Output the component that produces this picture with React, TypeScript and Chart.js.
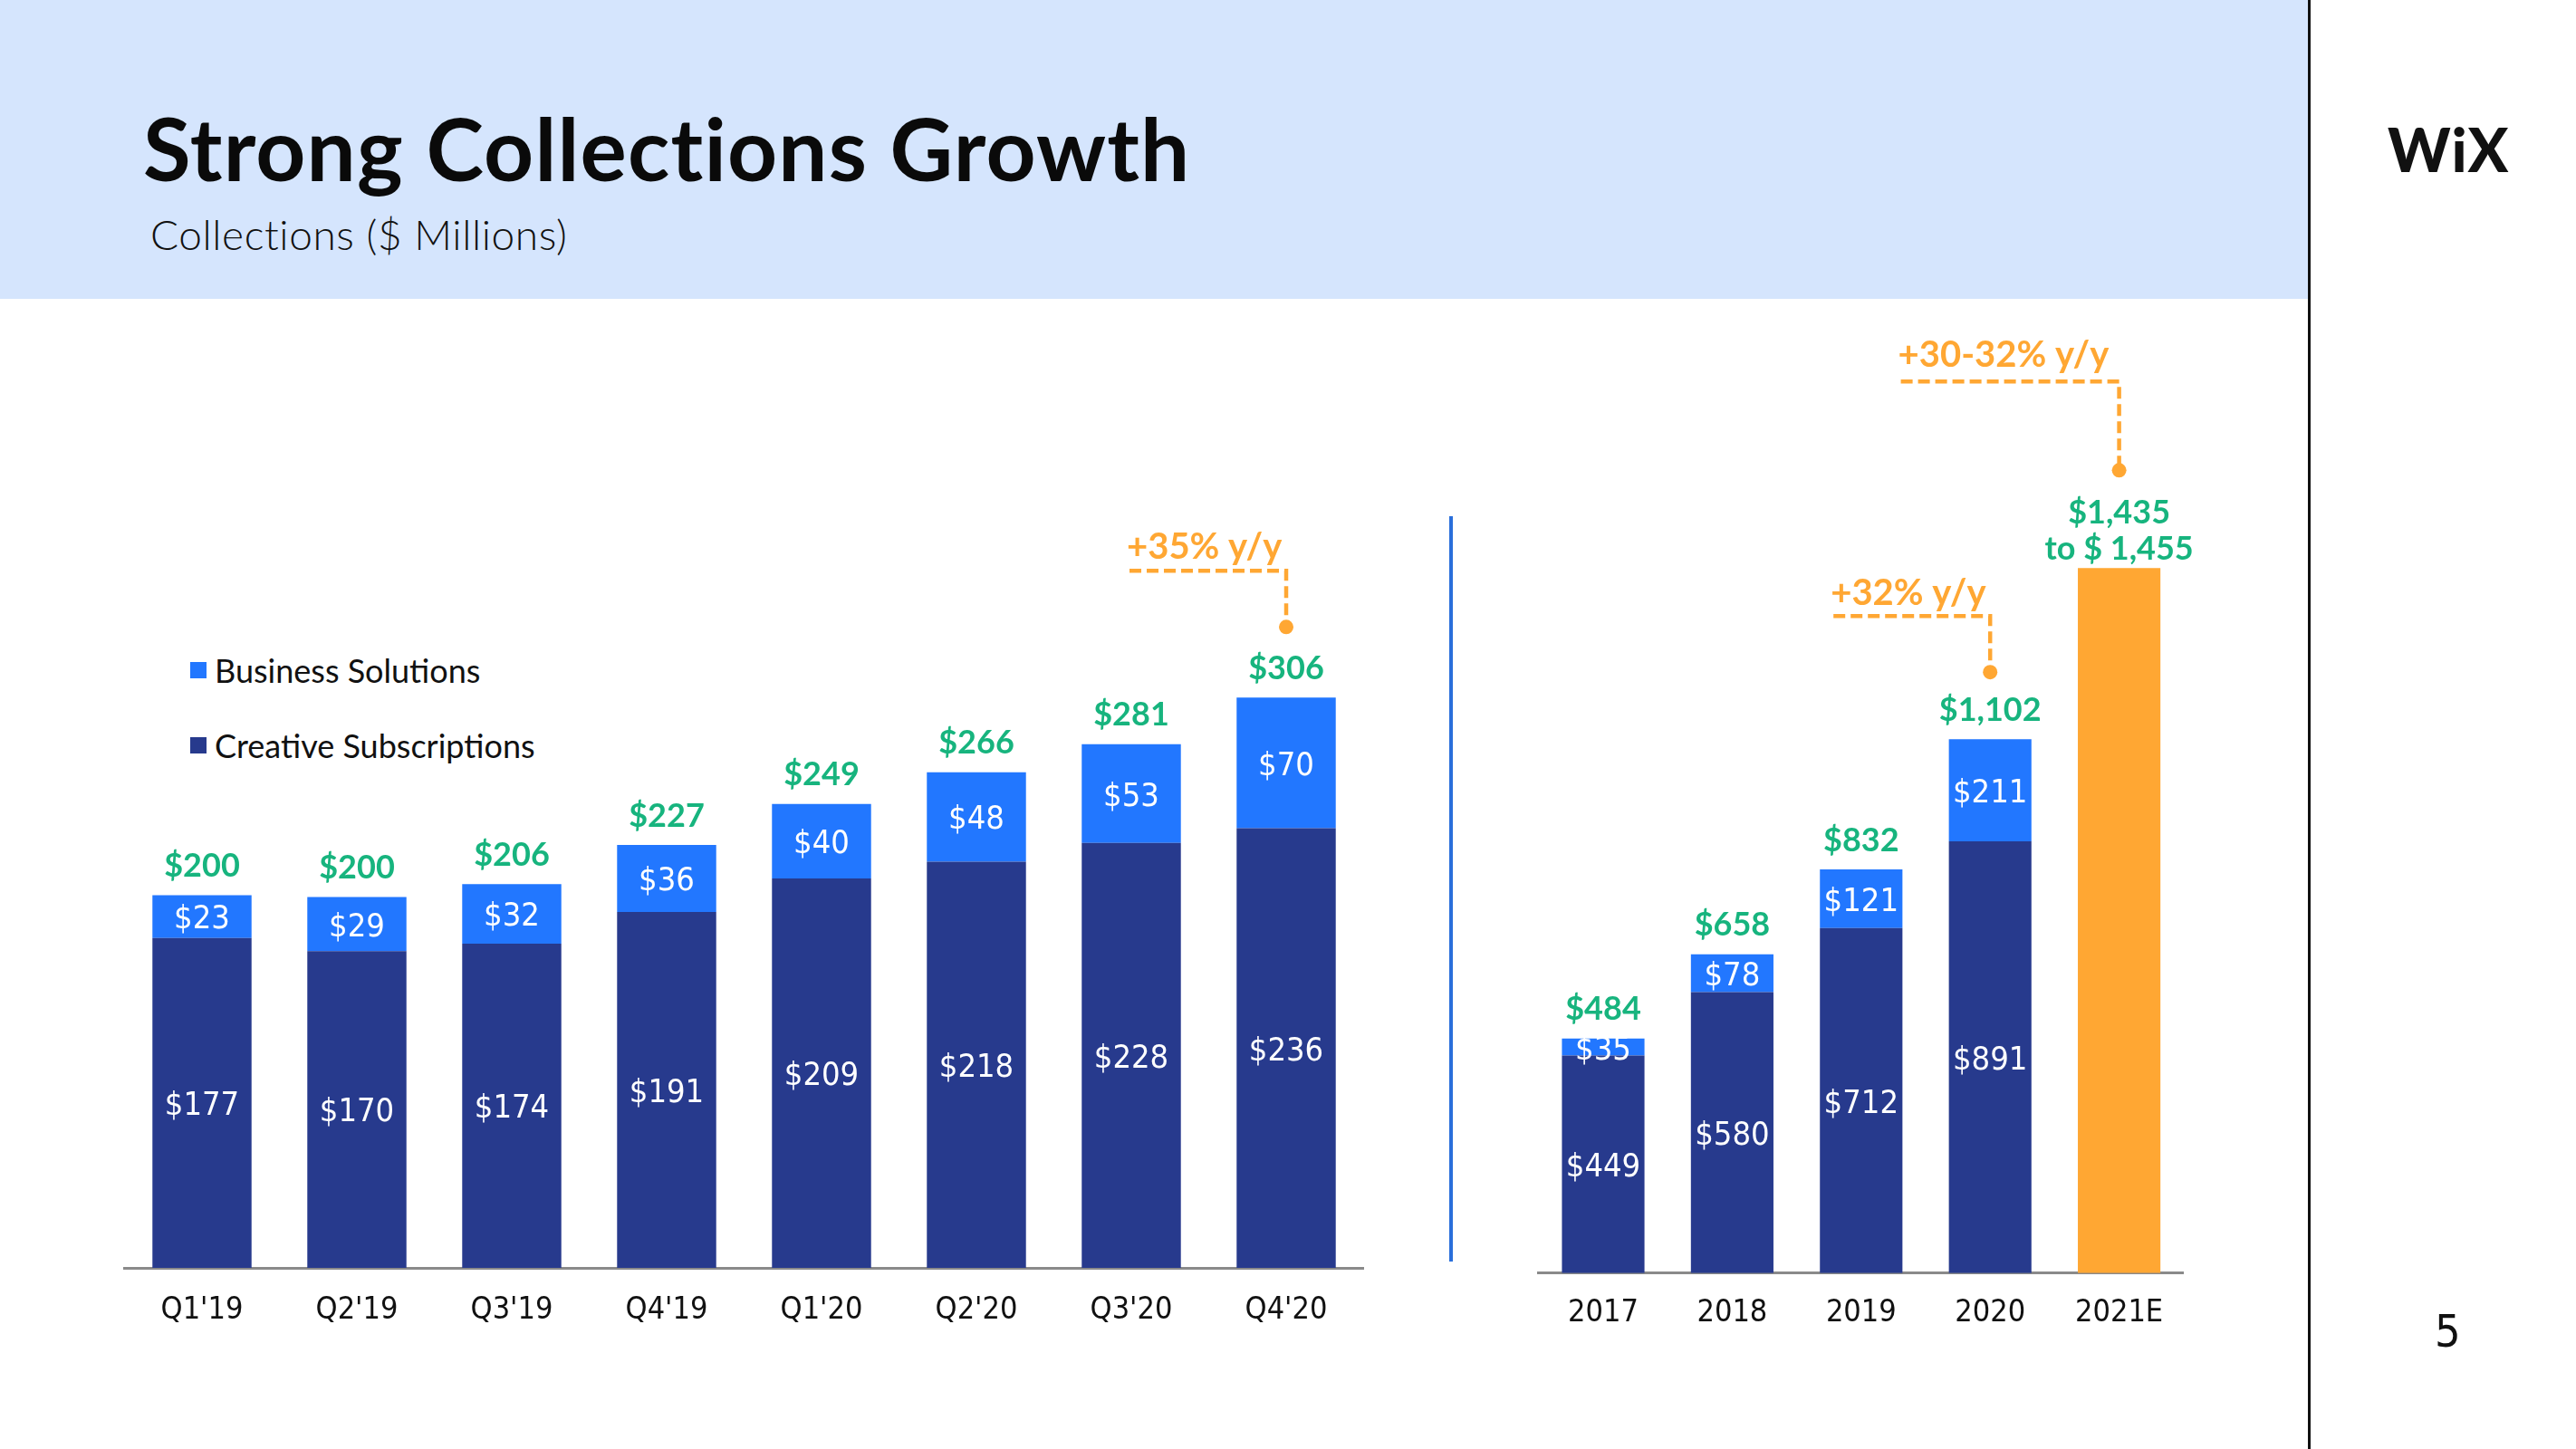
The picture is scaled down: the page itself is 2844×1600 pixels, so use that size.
import React, { useEffect, useRef } from 'react';
import { Chart, registerables } from 'chart.js';

Chart.register(...registerables);

// ---------- data ----------
const quarterLabels = ["Q1'19", "Q2'19", "Q3'19", "Q4'19", "Q1'20", "Q2'20", "Q3'20", "Q4'20"];
const quarterCreative = [177, 170, 174, 191, 209, 218, 228, 236];
const quarterBusiness = [23, 29, 32, 36, 40, 48, 53, 70];
const quarterTotals = [['$200'], ['$200'], ['$206'], ['$227'], ['$249'], ['$266'], ['$281'], ['$306']];
const quarterGrowth = [{ index: 7, text: '+35% y/y' }];

const yearLabels = ['2017', '2018', '2019', '2020', '2021E'];
const yearCreative = [449, 580, 712, 891, null];
const yearBusiness = [35, 78, 121, 211, null];
const yearOutlook = [null, null, null, null, 1455];
const yearTotals = [['$484'], ['$658'], ['$832'], ['$1,102'], ['$1,435', 'to $ 1,455']];
const yearGrowth = [
  { index: 3, text: '+32% y/y' },
  { index: 4, text: '+30-32% y/y' },
];

const legendItems = [
  { label: 'Business Solutions', color: '#2277FF' },
  { label: 'Creative Subscriptions', color: '#273A8D' },
];

// ---------- styles ----------
const NAVY = '#273A8D';
const BLUE = '#2277FF';
const ORANGE = '#FFA733';
const GREEN = '#17B47E';
const NARROW = '"Liberation Sans Narrow", "DejaVu Sans Condensed", "Roboto", sans-serif';
const MAIN = 'Lato, "Open Sans", sans-serif';

type Callout = { dotAbove: number; lineAbove: number; lineLen: number; textAbove: number };

function makeLabelPlugin(cfg: {
  totals: string[][];
  growth: { index: number; text: string }[];
  callouts: Callout[];
  totalAbove: number;
  lineGap: number;
}) {
  return {
    id: 'barLabels',
    afterDatasetsDraw(chart: any) {
      const ctx = chart.ctx;
      ctx.save();
      // inner white labels
      chart.data.datasets.forEach((ds: any, di: number) => {
        if (ds.innerLabels === false) return;
        const meta = chart.getDatasetMeta(di);
        meta.data.forEach((bar: any, i: number) => {
          const v = ds.data[i];
          if (v == null) return;
          const p = bar.getProps(['x', 'y', 'base'], true);
          ctx.fillStyle = '#ffffff';
          ctx.font = `36px ${NARROW}`;
          ctx.textAlign = 'center';
          ctx.textBaseline = 'middle';
          ctx.fillText('$' + v, p.x, (p.y + p.base) / 2 + 4);
        });
      });
      // totals + callouts
      const n = chart.data.labels.length;
      const tops: { x: number; y: number }[] = [];
      for (let i = 0; i < n; i++) {
        let top = Infinity;
        let x = 0;
        chart.data.datasets.forEach((ds: any, di: number) => {
          if (ds.data[i] == null) return;
          const bar = chart.getDatasetMeta(di).data[i];
          const p = bar.getProps(['x', 'y'], true);
          top = Math.min(top, p.y);
          x = p.x;
        });
        tops.push({ x, y: top });
        const lines = cfg.totals[i];
        ctx.fillStyle = GREEN;
        ctx.font = `bold 36px ${MAIN}`;
        ctx.textAlign = 'center';
        ctx.textBaseline = 'middle';
        lines.forEach((t, li) => {
          const yy = top - cfg.totalAbove - (lines.length - 1 - li) * cfg.lineGap + (lines.length > 1 ? 11 : 0);
          ctx.fillText(t, x, yy);
        });
      }
      cfg.growth.forEach((g, gi) => {
        const c = cfg.callouts[gi];
        const t = tops[g.index];
        const dotY = t.y - c.dotAbove;
        const lineY = dotY - c.lineAbove;
        ctx.strokeStyle = ORANGE;
        ctx.lineWidth = 4.5;
        ctx.setLineDash([13, 6]);
        ctx.beginPath();
        ctx.moveTo(t.x - c.lineLen, lineY);
        ctx.lineTo(t.x, lineY);
        ctx.lineTo(t.x, dotY);
        ctx.stroke();
        ctx.setLineDash([]);
        ctx.fillStyle = ORANGE;
        ctx.beginPath();
        ctx.arc(t.x, dotY, 8, 0, Math.PI * 2);
        ctx.fill();
        ctx.font = `bold 40px ${MAIN}`;
        ctx.textAlign = 'left';
        ctx.textBaseline = 'middle';
        ctx.fillText(g.text, t.x - c.lineLen - 3, lineY - c.textAbove);
      });
      ctx.restore();
    },
  };
}

function BarChart(props: {
  left: number;
  top: number;
  width: number;
  height: number;
  padding: { left: number; right: number; top: number; bottom: number };
  labels: string[];
  datasets: any[];
  max: number;
  tickPadding: number;
  plugin: any;
}) {
  const ref = useRef<HTMLCanvasElement | null>(null);
  useEffect(() => {
    if (!ref.current) return;
    const chart = new Chart(ref.current, {
      type: 'bar',
      data: { labels: props.labels, datasets: props.datasets },
      options: {
        responsive: false,
        maintainAspectRatio: false,
        animation: false,
        layout: { padding: props.padding },
        plugins: { legend: { display: false }, tooltip: { enabled: false } },
        datasets: { bar: { categoryPercentage: 1, barPercentage: 0.64 } } as any,
        scales: {
          x: {
            stacked: true,
            grid: { display: false, drawTicks: false },
            border: { display: true, color: '#8A8A8A', width: 3 },
            ticks: { color: '#111111', font: { family: NARROW, size: 34 }, padding: props.tickPadding },
            afterFit: (s: any) => {
              s.height = 100;
            },
          },
          y: { stacked: true, display: false, min: 0, max: props.max },
        },
      } as any,
      plugins: [props.plugin],
    });
    return () => chart.destroy();
  }, []);
  return (
    <canvas
      ref={ref}
      width={props.width}
      height={props.height}
      style={{ position: 'absolute', left: props.left, top: props.top, width: props.width, height: props.height }}
    />
  );
}

export default function App() {
  const quarterDatasets = [
    { label: 'Creative Subscriptions', data: quarterCreative, backgroundColor: NAVY, borderWidth: 0 },
    { label: 'Business Solutions', data: quarterBusiness, backgroundColor: BLUE, borderWidth: 0 },
  ];
  const yearDatasets = [
    { label: 'Creative Subscriptions', data: yearCreative, backgroundColor: NAVY, borderWidth: 0 },
    { label: 'Business Solutions', data: yearBusiness, backgroundColor: BLUE, borderWidth: 0 },
    { label: '2021E Outlook', data: yearOutlook, backgroundColor: ORANGE, borderWidth: 0, innerLabels: false },
  ];
  const qPlugin = makeLabelPlugin({
    totals: quarterTotals,
    growth: quarterGrowth,
    callouts: [{ dotAbove: 78, lineAbove: 62, lineLen: 173, textAbove: 26 }],
    totalAbove: 32,
    lineGap: 40,
  });
  const yPlugin = makeLabelPlugin({
    totals: yearTotals,
    growth: yearGrowth,
    callouts: [
      { dotAbove: 74, lineAbove: 62, lineLen: 173, textAbove: 25 },
      { dotAbove: 108, lineAbove: 98, lineLen: 241, textAbove: 29 },
    ],
    totalAbove: 32,
    lineGap: 40,
  });

  return (
    <div
      style={{
        position: 'fixed',
        left: 0,
        top: 0,
        width: 2844,
        height: 1600,
        background: '#ffffff',
        overflow: 'hidden',
        fontFamily: MAIN,
      }}
    >
      <div style={{ position: 'absolute', left: 0, top: 0, width: 2549, height: 330, background: '#D5E5FD' }} />
      <div
        style={{
          position: 'absolute',
          left: 158,
          top: 115,
          fontSize: 96,
          lineHeight: '96px',
          fontWeight: 700,
          color: '#0A0A0A',
          whiteSpace: 'nowrap',
          letterSpacing: 1.2,
        }}
      >
        Strong Collections Growth
      </div>
      <div
        style={{
          position: 'absolute',
          left: 166,
          top: 236,
          fontSize: 46,
          lineHeight: '46px',
          fontWeight: 300,
          color: '#111111',
          whiteSpace: 'nowrap',
          letterSpacing: 0.6,
        }}
      >
        Collections ($ Millions)
      </div>
      <div
        style={{
          position: 'absolute',
          left: 2636,
          top: 132,
          fontSize: 66,
          lineHeight: '66px',
          fontWeight: 900,
          color: '#111111',
          whiteSpace: 'nowrap',
          letterSpacing: 1,
        }}
      >
        WiX
      </div>
      <div style={{ position: 'absolute', left: 2548, top: 0, width: 3, height: 1600, background: '#111111' }} />
      <div style={{ position: 'absolute', left: 1600, top: 570, width: 4, height: 823, background: '#2A6FDB' }} />
      <div
        style={{
          position: 'absolute',
          left: 2688,
          top: 1445,
          fontSize: 50,
          lineHeight: '50px',
          fontFamily: NARROW,
          color: '#111111',
        }}
      >
        5
      </div>
      {legendItems.map((it, i) => (
        <div
          key={it.label}
          style={{
            position: 'absolute',
            left: 210,
            top: 740 + i * 83 - 22,
            height: 44,
            display: 'flex',
            alignItems: 'center',
            whiteSpace: 'nowrap',
          }}
        >
          <div style={{ width: 18, height: 18, background: it.color, marginRight: 9 }} />
          <span style={{ fontSize: 36, color: '#111111' }}>{it.label}</span>
        </div>
      ))}
      <BarChart
        left={0}
        top={330}
        width={1560}
        height={1270}
        padding={{ left: 137.5, right: 54.5, top: 70, bottom: 100 }}
        labels={quarterLabels}
        datasets={quarterDatasets}
        max={486}
        tickPadding={27}
        plugin={qPlugin}
      />
      <BarChart
        left={1620}
        top={330}
        width={900}
        height={1270}
        padding={{ left: 78.8, right: 109.2, top: 70, bottom: 94.3 }}
        labels={yearLabels}
        datasets={yearDatasets}
        max={1880}
        tickPadding={24}
        plugin={yPlugin}
      />
    </div>
  );
}
